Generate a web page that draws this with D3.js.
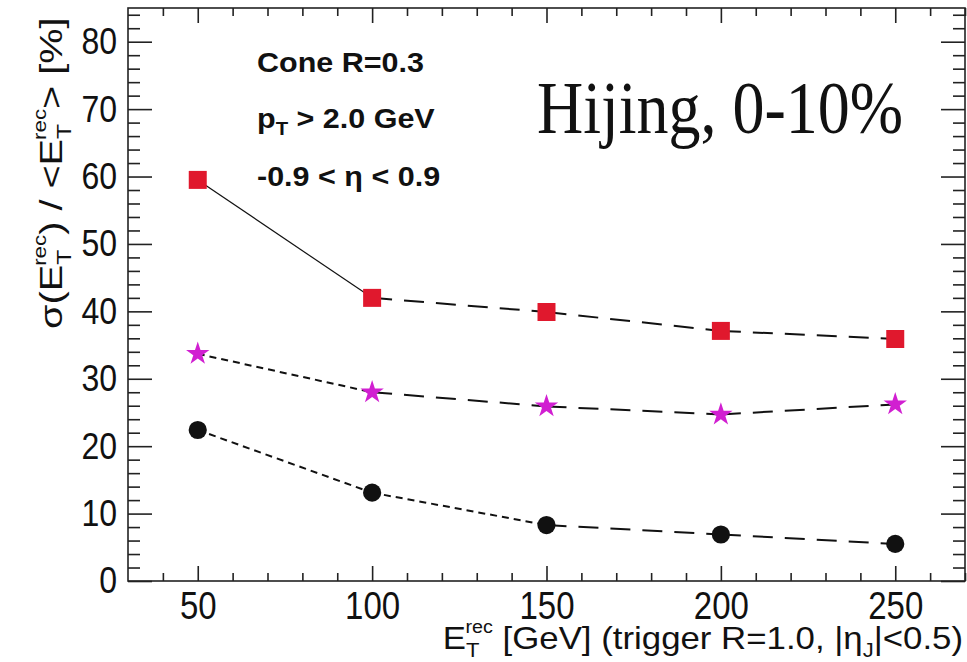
<!DOCTYPE html>
<html>
<head>
<meta charset="utf-8">
<script src="https://cdn.jsdelivr.net/npm/d3@7"></script>
<style>
  body { margin: 0; background: #fff; }
  svg { display: block; }
  text { font-family: "Liberation Sans", Arial, Helvetica, sans-serif; fill: #111; }
</style>
</head>
<body>
<svg id="chart" width="967" height="662"></svg>
<script>
// Jet energy resolution vs reconstructed trigger energy (Hijing, 0-10%)
const energies = [50, 100, 150, 200, 250];
const squareRes = [59.5, 42.0, 39.9, 37.1, 35.9];
const starRes = [33.7, 28.0, 25.9, 24.7, 26.2];
const circleRes = [22.4, 13.1, 8.3, 6.9, 5.5];
const xMajorTicks = [50, 100, 150, 200, 250];
const yMajorTicks = [0, 10, 20, 30, 40, 50, 60, 70, 80];

const plotLeft = 128, plotRight = 965, plotTop = 8, plotBottom = 581;
const ky = 1.17; // vertical stretch of the tick lettering

const svg = d3.select("#chart");
const x = d3.scaleLinear().domain([30, 270]).range([plotLeft, plotRight]);
const y = d3.scaleLinear().domain([0, 85]).range([plotBottom, plotTop]);

const xMinor = d3.range(40, 271, 10).filter(v => !xMajorTicks.includes(v));
const yMinor = d3.range(0, 85.1, 2).filter(v => v % 10 !== 0);

const axisColor = "#222";
function styleAxis(g) {
  g.select(".domain").remove();
  g.selectAll(".tick line").attr("stroke", axisColor).attr("stroke-width", 1.6);
}

// bottom axis
svg.append("g").attr("transform", `translate(0,${plotBottom})`)
  .call(d3.axisBottom(x).tickValues(xMajorTicks).tickSize(-15).tickPadding(11))
  .call(styleAxis)
  .call(g => g.selectAll("text")
    .attr("font-size", 33).attr("fill", "#111")
    .attr("y", 11 / ky)
    .attr("transform", `scale(1,${ky})`));
svg.append("g").attr("transform", `translate(0,${plotBottom})`)
  .call(d3.axisBottom(x).tickValues(xMinor).tickSize(-8).tickFormat(""))
  .call(styleAxis);

// top axis
svg.append("g").attr("transform", `translate(0,${plotTop})`)
  .call(d3.axisTop(x).tickValues(xMajorTicks).tickSize(-15).tickFormat(""))
  .call(styleAxis);
svg.append("g").attr("transform", `translate(0,${plotTop})`)
  .call(d3.axisTop(x).tickValues(xMinor).tickSize(-8).tickFormat(""))
  .call(styleAxis);

// left axis
svg.append("g").attr("transform", `translate(${plotLeft},0)`)
  .call(d3.axisLeft(y).tickValues(yMajorTicks).tickSize(-24).tickPadding(11))
  .call(styleAxis)
  .call(g => g.selectAll("text")
    .attr("font-size", 32).attr("fill", "#111")
    .attr("transform", `scale(1,${ky})`));
svg.append("g").attr("transform", `translate(${plotLeft},0)`)
  .call(d3.axisLeft(y).tickValues(yMinor).tickSize(-12).tickFormat(""))
  .call(styleAxis);

// right axis
svg.append("g").attr("transform", `translate(${plotRight},0)`)
  .call(d3.axisRight(y).tickValues(yMajorTicks).tickSize(-24).tickFormat(""))
  .call(styleAxis);
svg.append("g").attr("transform", `translate(${plotRight},0)`)
  .call(d3.axisRight(y).tickValues(yMinor).tickSize(-12).tickFormat(""))
  .call(styleAxis);

// frame
svg.append("rect")
  .attr("x", plotLeft).attr("y", plotTop)
  .attr("width", plotRight - plotLeft).attr("height", plotBottom - plotTop)
  .attr("fill", "none").attr("stroke", axisColor).attr("stroke-width", 1.6);

// series
const series = [
  { name: "squares", values: squareRes, color: "#e0182d", shape: d3.symbolSquare, size: 324,
    dash: i => i === 0 ? null : "20,12", width: i => i === 0 ? 1.2 : 2 },
  { name: "stars", values: starRes, color: "#d11fd1", shape: d3.symbolStar, size: 170,
    dash: i => i === 0 ? "7,5" : "20,12", width: () => 2 },
  { name: "circles", values: circleRes, color: "#111", shape: d3.symbolCircle, size: 260,
    dash: i => i <= 1 ? "7,5" : "20,12", width: () => 2 }
];

const line = d3.line().x(d => x(d[0])).y(d => y(d[1]));

series.forEach(s => {
  const pts = energies.map((e, i) => [e, s.values[i]]);
  const g = svg.append("g").attr("class", s.name);
  d3.pairs(pts).forEach((pair, i) => {
    g.append("path")
      .attr("d", line(pair))
      .attr("fill", "none")
      .attr("stroke", "#111")
      .attr("stroke-width", s.width(i))
      .attr("stroke-dasharray", s.dash(i));
  });
  g.selectAll("path.mark").data(pts).join("path")
    .attr("class", "mark")
    .attr("transform", d => `translate(${x(d[0])},${y(d[1])})`)
    .attr("d", d3.symbol().type(s.shape).size(s.size))
    .attr("fill", s.color);
});

// text placed at a point, with independent horizontal / vertical scaling
function label(xPos, yPos, opts = {}) {
  const sx = opts.sx || 1, sy = opts.sy || 1;
  const t = svg.append("text")
    .attr("transform", `translate(${xPos},${yPos}) scale(${sx},${sy})`)
    .attr("font-size", opts.size || 28)
    .attr("font-weight", opts.weight || "normal")
    .attr("text-anchor", opts.anchor || "start");
  if (opts.family) t.style("font-family", opts.family);
  return t;
}

// annotations
const noteStyle = { size: 27, weight: "bold", sx: 1.13, sy: 1.05 };
label(257, 72, noteStyle).text("Cone R=0.3");
{
  const t = label(257, 128, noteStyle);
  t.append("tspan").text("p");
  t.append("tspan").attr("font-size", 18).attr("dy", 7).text("T");
  t.append("tspan").attr("dy", -7).text(" > 2.0 GeV");
}
label(257, 186, noteStyle).text("-0.9 < η < 0.9");

label(537, 133, { size: 64, sy: 1.17, family: "'Liberation Serif', 'Times New Roman', serif" })
  .text("Hijing, 0-10%");

// x-axis title
{
  const t = label(963, 649, { size: 30, anchor: "end", sx: 1.16, sy: 1.05 });
  t.append("tspan").text("E");
  t.append("tspan").attr("font-size", 19).attr("dy", 8).text("T");
  t.append("tspan").attr("font-size", 17).attr("dy", -23).attr("dx", -12).text("rec");
  t.append("tspan").attr("dy", 15).text(" [GeV] (trigger R=1.0, |η");
  t.append("tspan").attr("font-size", 19).attr("dy", 8).text("J");
  t.append("tspan").attr("dy", -8).text("|<0.5)");
}

// y-axis title
{
  const t = svg.append("text")
    .attr("transform", `translate(62,329) rotate(-90) scale(1.24,1)`)
    .attr("font-size", 32);
  t.append("tspan").text("σ(E");
  t.append("tspan").attr("font-size", 20).attr("dy", 9).text("T");
  t.append("tspan").attr("font-size", 18).attr("dy", -25).attr("dx", -13).text("rec");
  t.append("tspan").attr("dy", 16).text(") / <E");
  t.append("tspan").attr("font-size", 20).attr("dy", 9).text("T");
  t.append("tspan").attr("font-size", 18).attr("dy", -25).attr("dx", -13).text("rec");
  t.append("tspan").attr("dy", 16).text("> [%]");
}
</script>
</body>
</html>
